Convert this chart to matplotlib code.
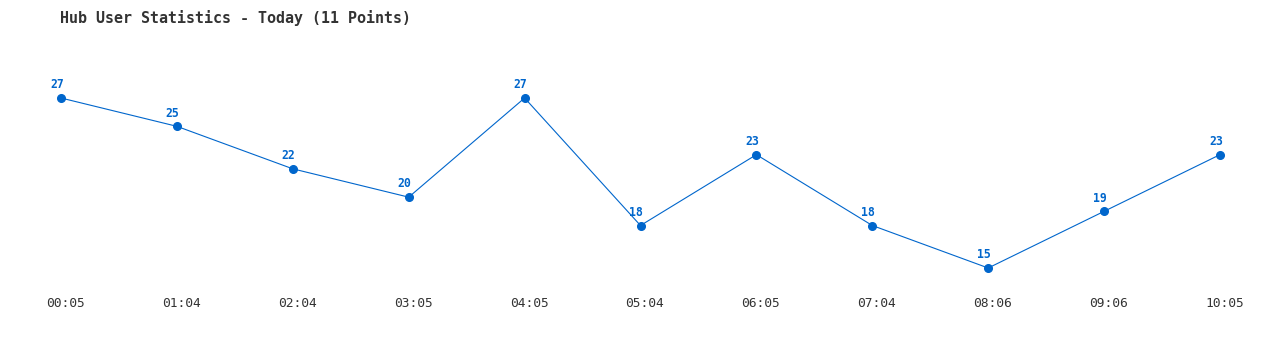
import matplotlib
matplotlib.use("Agg")
import matplotlib.pyplot as plt
from matplotlib.transforms import ScaledTranslation

times = ["00:05", "01:04", "02:04", "03:05", "04:05", "05:04",
         "06:05", "07:04", "08:06", "09:06", "10:05"]
users = [27, 25, 22, 20, 27, 18, 23, 18, 15, 19, 23]

blue = "#0066cc"
W, H = 1280, 350

fig = plt.figure(figsize=(W / 100, H / 100), dpi=100)
# axes placed so that x=0..10 maps to px 61..1220 and y 15..27 to px 268..98
top_px, bot_px = 60, 290
ax = fig.add_axes([61 / W, 1 - bot_px / H, (1220 - 61) / W, (bot_px - top_px) / H])
ppu = (268 - 98) / 12
ax.set_ylim(15 - (bot_px - 268) / ppu, 27 + (98 - top_px) / ppu)
ax.set_xlim(0, len(users) - 1)

x = list(range(len(users)))
ax.plot(x, users, color=blue, lw=0.8, marker="o", ms=5.5, clip_on=False)
for xi, v in zip(x, users):
    ax.annotate(str(v), (xi, v), xytext=(-3, 9.5), textcoords="offset points",
                ha="center", va="center", color=blue, fontsize=8.3,
                fontweight="bold", family="DejaVu Sans Mono")

ax.set_xticks(x)
ax.set_xticklabels(times, family="DejaVu Sans Mono", fontsize=9.3, color="#333333")
ax.tick_params(axis="x", length=0, pad=5)
shift = ScaledTranslation(4.5 / 100, 0, fig.dpi_scale_trans)
for lab in ax.get_xticklabels():
    lab.set_transform(lab.get_transform() + shift)
ax.set_yticks([])
for s in ax.spines.values():
    s.set_visible(False)

fig.text(60 / W, 1 - 18 / H, "Hub User Statistics - Today (11 Points)",
         family="DejaVu Sans Mono", fontsize=10.8, fontweight="bold",
         color="#333333", ha="left", va="center")

fig.savefig("out.png", dpi=100)
